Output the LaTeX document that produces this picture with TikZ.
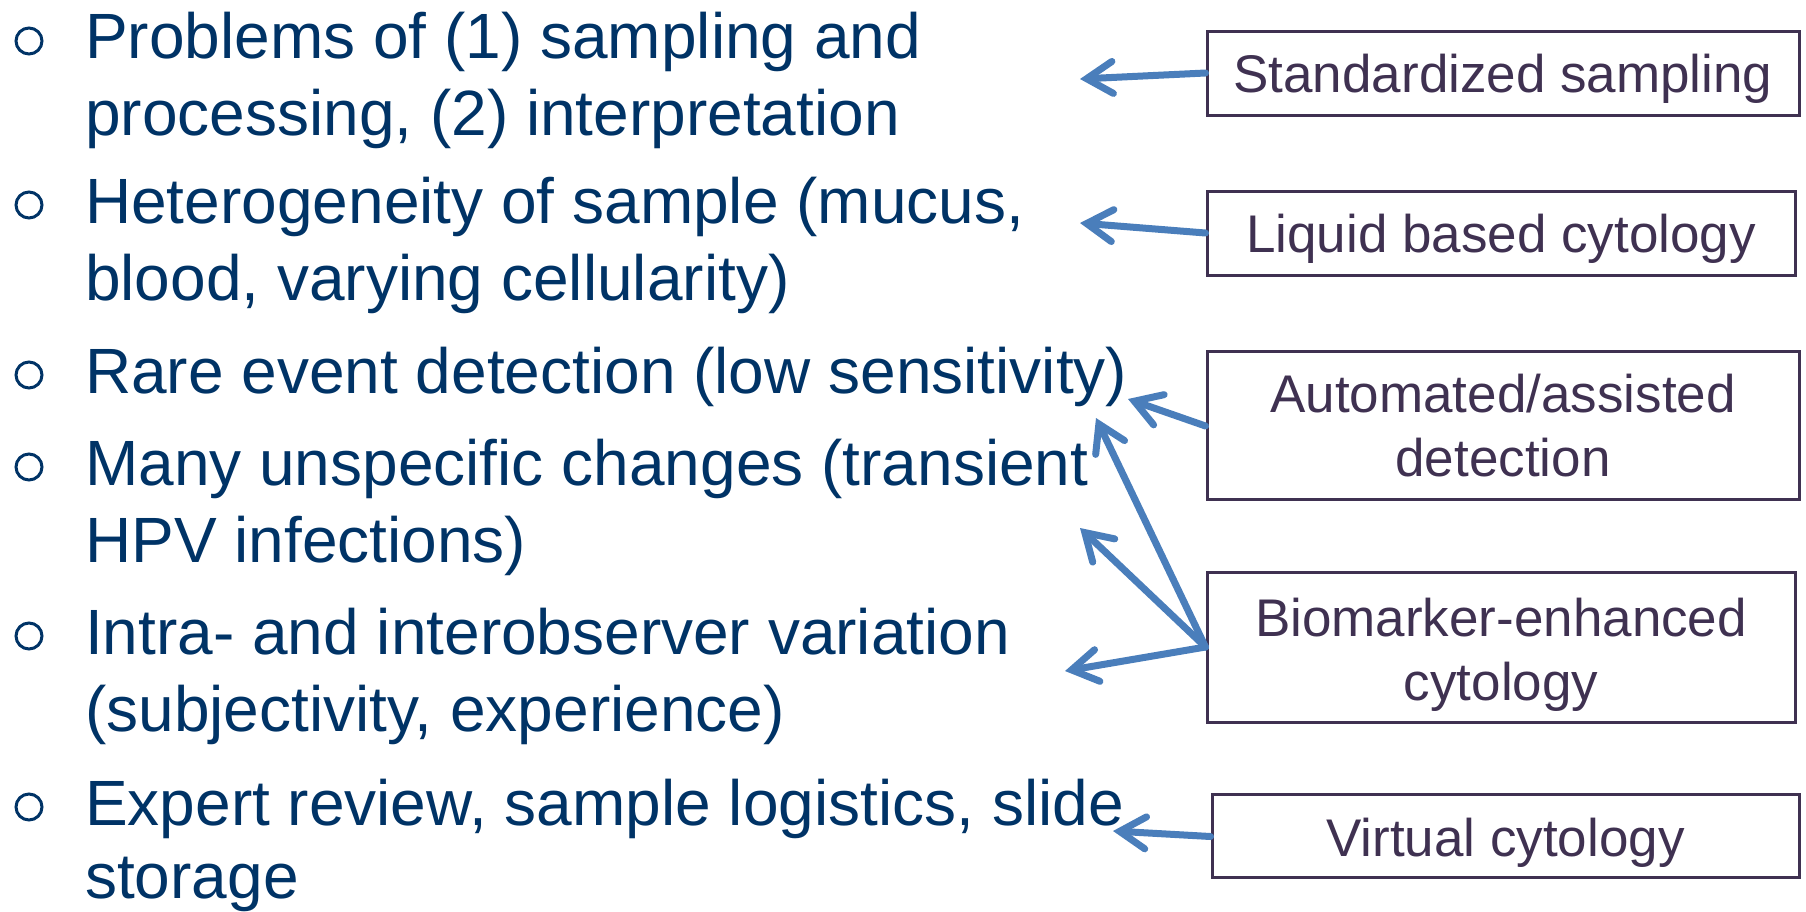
\documentclass[tikz,border=0pt]{standalone}
\usepackage{fontspec}
\setmainfont{Liberation Sans}
\usetikzlibrary{arrows.meta}
\definecolor{navy}{RGB}{0,51,102}
\definecolor{boxpurple}{RGB}{63,49,81}
\definecolor{arrowblue}{RGB}{74,126,187}
\begin{document}
\begin{tikzpicture}[x=1pt,y=-1pt,
  itemtext/.style={anchor=base west, inner sep=0pt, text=navy, font=\fontsize{64}{77}\selectfont},
  bulletmark/.style={circle, draw=navy, line width=3pt, minimum size=26pt, inner sep=0pt},
  solbox/.style={draw=boxpurple, line width=3pt, inner sep=0pt},
  boxtext/.style={text=boxpurple, font=\fontsize{53}{64}\selectfont, align=center, inner sep=0pt},
  link/.style={draw=arrowblue, line width=7pt, line cap=round, -{Straight Barb[length=26pt,width=32pt,line cap=round,line join=miter]}}
]
\useasboundingbox (0,0) rectangle (1806,911);
% bullets
\node[bulletmark] (b1) at (29,41) {};
\node[bulletmark] (b2) at (29,205) {};
\node[bulletmark] (b3) at (29,375) {};
\node[bulletmark] (b4) at (29,467) {};
\node[bulletmark] (b5) at (29,636) {};
\node[bulletmark] (b6) at (29,807) {};
% item texts
\node[itemtext] (i1a) at (85,58) {Problems of (1) sampling and};
\node[itemtext] (i1b) at (85,135) {processing, (2) interpretation};
\node[itemtext] (i2a) at (85,223) {Heterogeneity of sample (mucus,};
\node[itemtext] (i2b) at (85,300) {blood, varying cellularity)};
\node[itemtext] (i3) at (85,393) {Rare event detection (low sensitivity)};
\node[itemtext] (i4a) at (85,485) {Many unspecific changes (transient};
\node[itemtext] (i4b) at (85,562) {HPV infections)};
\node[itemtext] (i5a) at (85,654) {Intra- and interobserver variation};
\node[itemtext] (i5b) at (85,731) {(subjectivity, experience)};
\node[itemtext] (i6a) at (85,825) {Expert review, sample logistics, slide};
\node[itemtext] (i6b) at (85,898) {storage};
% boxes
\node[solbox, minimum width=592pt, minimum height=84pt] (s1) at (1503,73) {};
\node[solbox, minimum width=588pt, minimum height=84pt] (s2) at (1501,233) {};
\node[solbox, minimum width=592pt, minimum height=148pt] (s3) at (1503,425) {};
\node[solbox, minimum width=588pt, minimum height=150pt] (s4) at (1501,647) {};
\node[solbox, minimum width=587pt, minimum height=83pt] (s5) at (1505.5,835.5) {};
\node[boxtext] (s1t) at ([yshift=-6pt]s1.center) {Standardized sampling};
\node[boxtext] (s2t) at ([yshift=-6pt]s2.center) {Liquid based cytology};
\node[boxtext] (s3t) at ([yshift=-1pt]s3.center) {Automated/assisted\\detection};
\node[boxtext] (s4t) at ([yshift=-8pt]s4.center) {Biomarker-enhanced\\cytology};
\node[boxtext] (s5t) at ([yshift=-7pt]s5.center) {Virtual cytology};
% arrow tips
\coordinate (t1) at (1080,79);
\coordinate (t2) at (1080,223);
\coordinate (t3) at (1128,399);
\coordinate (t4) at (1096,418);
\coordinate (t5) at (1080,528);
\coordinate (t6) at (1065,671);
\coordinate (t7) at (1113,831);
\draw[link] (s1.west) -- (t1);
\draw[link] (s2.west) -- (t2);
\draw[link] ([yshift=-1pt]s3.west) -- (t3);
\draw[link] (s4.west) -- (t4);
\draw[link] (s4.west) -- (t5);
\draw[link] (s4.west) -- (t6);
\draw[link] ([yshift=-1pt]s5.west) -- (t7);
\end{tikzpicture}
\end{document}
